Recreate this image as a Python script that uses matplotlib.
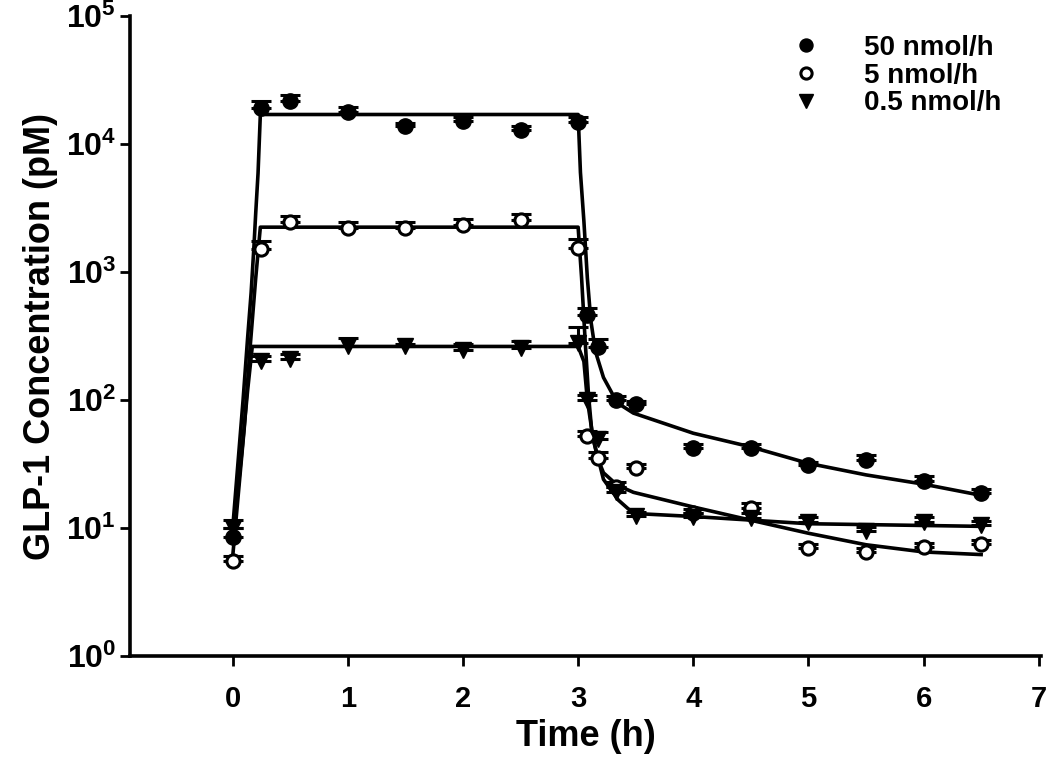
import matplotlib
matplotlib.use("Agg")
import matplotlib.pyplot as plt
import numpy as np

plt.rcParams['font.family'] = ['Liberation Sans', 'DejaVu Sans']
plt.rcParams['font.weight'] = 'bold'
plt.rcParams['mathtext.fontset'] = 'custom'
plt.rcParams['mathtext.rm'] = 'Liberation Sans:bold'
plt.rcParams['mathtext.bf'] = 'Liberation Sans:bold'

# ---- data ----
series_labels = ["50 nmol/h", "5 nmol/h", "0.5 nmol/h"]

t_obs = [0, 0.25, 0.5, 1, 1.5, 2, 2.5, 3, 3.08, 3.17, 3.33, 3.5, 4, 4.5, 5, 5.5, 6, 6.5]

c50 = [8.5, 19000, 21500, 17800, 13800, 15000, 12900, 14800, 460, 260, 100, 93, 42, 42, 31, 34, 23.5, 18.7]
e50 = [1.5, 2500, 2800, 1500, 800, 1200, 800, 1500, 60, 40, 8, 6, 3, 3, 2, 3, 2, 1.5]

c5 = [5.5, 1500, 2450, 2200, 2200, 2350, 2550, 1550, 52, 35, 21, 29.5, 13, 14.3, 7.0, 6.5, 7.1, 7.5]
e5 = [0.5, 250, 300, 250, 250, 250, 300, 250, 5, 4, 2, 2, 1, 1.5, 0.5, 0.5, 0.5, 0.5]

c05 = [10, 200, 210, 265, 265, 245, 255, 280, 100, 50, 19, 12.3, 12.2, 12, 11.2, 9.4, 11.2, 10.6]
e05 = [1.5, 20, 20, 40, 10, 30, 35, 90, 10, 6, 2, 1, 1, 1, 1, 0.8, 1, 0.8]

# fitted curves
fit50_t = [0, 0.09, 0.13, 0.16, 0.185, 0.2, 0.22, 0.24, 3.0, 3.02, 3.05, 3.08, 3.11, 3.15,
           3.22, 3.34, 3.48, 4.0, 4.5, 5.0, 5.5, 6.0, 6.5]
fit50_c = [10, 100, 310, 690, 1620, 2900, 5900, 17000, 17000, 6000, 2500, 900, 420, 240,
           150, 95, 79, 55, 43, 32, 26, 22, 18]

fit5_t = [0, 0.1, 0.15, 0.2, 0.24, 3.0, 3.03, 3.06, 3.09, 3.12, 3.17, 3.22, 3.34, 3.48,
          4.0, 4.5, 5.0, 5.5, 6.0, 6.5]
fit5_c = [6, 60, 250, 900, 2240, 2240, 900, 300, 110, 55, 35, 27, 21.6, 19,
          14.6, 11.5, 9.1, 7.4, 6.5, 6.2]

fit05_t = [0, 0.08, 0.13, 0.17, 3.0, 3.05, 3.08, 3.13, 3.22, 3.35, 3.48, 4.0, 5.0, 6.5]
fit05_c = [8, 40, 120, 262, 262, 200, 100, 50, 24, 16.5, 13, 12.3, 10.8, 10.3]

x_ticks = [0, 1, 2, 3, 4, 5, 6, 7]
y_ticks = [1, 10, 100, 1000, 10000, 100000]
y_ticklabels = [r'$\mathbf{10^{%d}}$' % k for k in range(6)]

# ---- figure ----
fig = plt.figure(figsize=(10.5, 7.62), dpi=100)
ax = fig.add_axes([130/1050, 106/762, 911/1050, 640/762])

lw = 2.6
ax.plot(fit50_t, fit50_c, color='black', lw=lw, zorder=2)
ax.plot(fit5_t, fit5_c, color='black', lw=lw, zorder=2)
ax.plot(fit05_t, fit05_c, color='black', lw=lw, zorder=2)

ekw = dict(ecolor='black', elinewidth=2.2, capsize=7, capthick=2.2, ls='none', zorder=3)
ax.errorbar(t_obs, c50, yerr=[np.zeros(len(e50)), e50], **ekw)
ax.errorbar(t_obs, c5, yerr=[np.zeros(len(e5)), e5], **ekw)
ax.errorbar(t_obs, c05, yerr=[np.zeros(len(e05)), e05], **ekw)

h50, = ax.plot(t_obs, c50, ls='none', marker='o', ms=11, mfc='black', mec='black', zorder=4,
               label=series_labels[0])
h5, = ax.plot(t_obs, c5, ls='none', marker='o', ms=9.5, mfc='white', mec='black', mew=2.2,
              zorder=4, label=series_labels[1])
h05, = ax.plot(t_obs, c05, ls='none', marker='v', ms=12, mfc='black', mec='black', zorder=4,
               label=series_labels[2])

ax.set_yscale('log')
ax.set_ylim(1, 100000)
ax.set_xlim(-0.892, 7.02)
ax.set_xticks(x_ticks)
ax.set_xticklabels([str(v) for v in x_ticks])
ax.set_yticks(y_ticks)
ax.set_yticklabels(y_ticklabels)
ax.yaxis.set_minor_locator(matplotlib.ticker.NullLocator())

for s in ['top', 'right']:
    ax.spines[s].set_visible(False)
for s in ['left', 'bottom']:
    ax.spines[s].set_linewidth(2.6)

ax.tick_params(axis='both', which='major', direction='out', length=7, width=2)
ax.tick_params(axis='x', pad=14, labelsize=21)
ax.tick_params(axis='y', pad=3, labelsize=23)
for lab in ax.get_xticklabels():
    lab.set_fontweight('bold')

ax.set_xlabel('Time (h)', fontsize=26, fontweight='bold', labelpad=4)
ax.set_ylabel('GLP-1 Concentration (pM)', fontsize=26, fontweight='bold', labelpad=6)

leg = ax.legend(handles=[h50, h5, h05], loc='upper left', bbox_to_anchor=(0.699, 1.01),
                frameon=False, fontsize=20, handletextpad=1.6, labelspacing=0.07,
                handlelength=1.0, borderaxespad=0.5, markerscale=0.85)
for t in leg.get_texts():
    t.set_fontweight('bold')

fig.savefig('out.png', dpi=100)
